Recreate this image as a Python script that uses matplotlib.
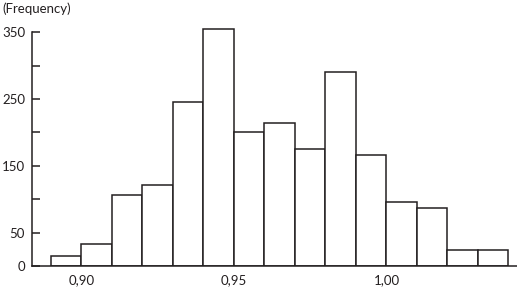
import matplotlib.pyplot as plt
from matplotlib.ticker import FixedLocator

# bin edges (left) and counts
bin_left = [0.89, 0.90, 0.91, 0.92, 0.93, 0.94, 0.95, 0.96, 0.97, 0.98, 0.99, 1.00, 1.01, 1.02, 1.03]
counts = [15, 33, 107, 122, 245, 355, 200, 214, 175, 290, 166, 96, 87, 24, 24]
bin_width = 0.01

y_ticks = [0, 50, 100, 150, 200, 250, 300, 350]
y_labels = ['0', '50', '', '150', '', '250', '', '350']
x_ticks = [0.90, 0.95, 1.00]
x_labels = ['0,90', '0,95', '1,00']

plt.rcParams['font.family'] = ['Lato', 'DejaVu Sans']
ink = '#231f20'

fig = plt.figure(figsize=(5.17, 2.87), dpi=100)
W, H = 517, 287
left, right, bottom, top = 32, 517, 287 - 266.3, 287 - 22
ax = fig.add_axes([left / W, bottom / H, (right - left) / W, (top - bottom) / H])

ax.bar(bin_left, counts, width=bin_width, align='edge',
       facecolor='white', edgecolor=ink, linewidth=1.1)

ax.set_xlim(0.88377, 1.0428)
ax.set_ylim(0, 365)

for s in ['top', 'right']:
    ax.spines[s].set_visible(False)
for s in ['left', 'bottom']:
    ax.spines[s].set_color(ink)
    ax.spines[s].set_linewidth(1.1)
ax.spines['left'].set_bounds(0, 350)

ax.yaxis.set_major_locator(FixedLocator(y_ticks))
ax.set_yticklabels(y_labels)
ax.tick_params(axis='y', direction='in', length=5.8, width=1.1, color=ink,
               labelsize=9.5, labelcolor=ink, pad=5)
ax.set_xticks(x_ticks)
ax.set_xticklabels(x_labels)
ax.tick_params(axis='x', length=0, labelsize=9.5, labelcolor=ink, pad=6)

fig.text(2 / W, 1 - 2 / H, '(Frequency)', ha='left', va='top', fontsize=9.5, color=ink)

fig.savefig('out.png', dpi=100)
